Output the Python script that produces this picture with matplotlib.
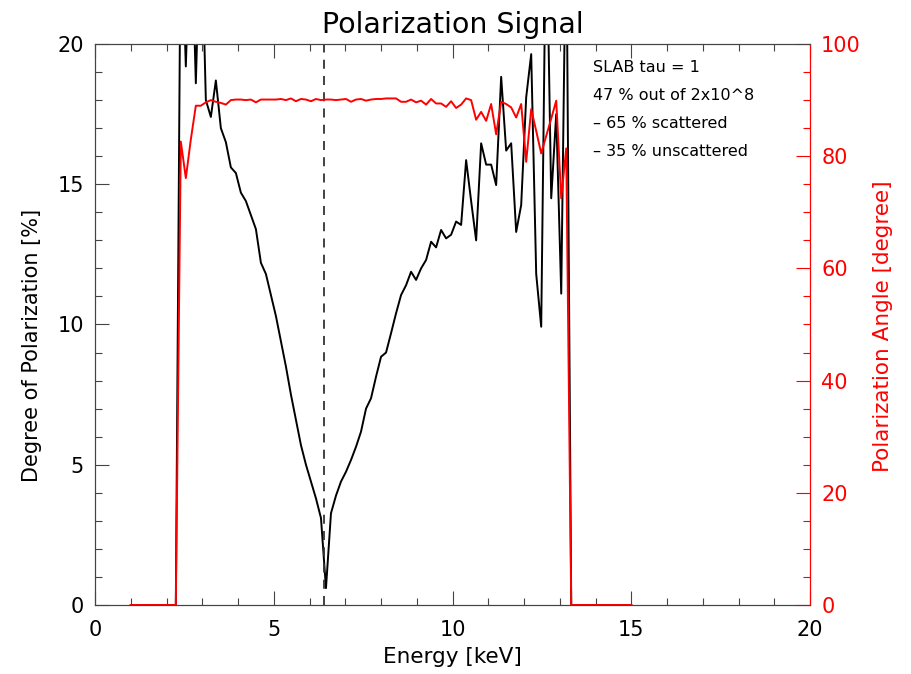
import numpy as np
import matplotlib
matplotlib.use("Agg")
import matplotlib.pyplot as plt
from matplotlib.ticker import MultipleLocator

# energy bins, 1-15 keV in 0.14 keV steps
energy = np.round(np.linspace(1.0, 15.0, 101), 2)

# signal is only non-zero between 2.40 and 13.18 keV (bins 10..87)
first_bin = 10

# degree of polarization [%] (values above 20 run off the top of the plot)
pol_degree = [
    25.0, 19.2, 25.0, 18.6, 25.0, 18.0, 17.4, 18.7, 17.0, 16.5,
    15.6, 15.4, 14.7, 14.4, 13.9, 13.4, 12.2, 11.8, 11.05, 10.3,
    9.4, 8.5, 7.5, 6.6, 5.7, 5.0, 4.4, 3.8, 3.1, 0.6,
    3.27, 3.9, 4.4, 4.75, 5.17, 5.64, 6.18, 7.0, 7.37, 8.14,
    8.85, 9.0, 9.69, 10.4, 11.05, 11.4, 11.88, 11.59, 12.0, 12.3,
    12.95, 12.75, 13.37, 13.07, 13.2, 13.67, 13.55, 15.86, 14.4, 13.0,
    16.46, 15.7, 15.7, 14.97, 18.83, 16.2, 16.46, 13.3, 14.26, 18.1,
    19.64, 11.8, 9.92, 25.0, 14.5, 17.5, 11.1, 25.0,
]

# polarization angle [degree]
pol_angle = [
    82.6, 76.1, 83.0, 89.0, 89.0, 89.6, 90.0, 89.7, 89.5, 89.2,
    90.0, 90.1, 90.1, 90.0, 90.1, 89.6, 90.1, 90.1, 90.1, 90.1,
    90.2, 90.0, 90.3, 89.8, 90.2, 90.1, 89.8, 90.2, 90.0, 90.1,
    90.1, 90.0, 90.1, 90.2, 89.7, 90.1, 90.2, 89.9, 90.1, 90.2,
    90.2, 90.3, 90.3, 90.3, 89.7, 89.7, 90.1, 89.6, 89.9, 89.2,
    90.2, 89.4, 89.4, 88.8, 89.8, 88.6, 89.2, 90.3, 90.0, 86.5,
    87.9, 86.3, 89.3, 83.9, 89.7, 89.3, 88.7, 86.9, 89.3, 79.0,
    88.4, 84.5, 80.5, 83.6, 86.7, 89.9, 72.5, 81.4,
]

fe_line = 6.4  # keV

notes = [
    "SLAB tau = 1",
    "47 % out of 2x10^8",
    "\u2013 65 % scattered",
    "\u2013 35 % unscattered",
]


def pad(values):
    out = np.zeros(len(energy))
    out[first_bin:first_bin + len(values)] = values
    return out


def main():
    degree = pad(pol_degree)
    angle = pad(pol_angle)

    plt.rcParams["font.family"] = "DejaVu Sans"
    fig = plt.figure(figsize=(9.11, 6.74), dpi=100)
    ax = fig.add_axes([0.1043, 0.1024, 0.7849, 0.8323])
    ax2 = ax.twinx()

    ax.plot(energy, degree, color="black", lw=1.4)
    ax.axvline(fe_line, color="#333333", lw=1.3, ls=(0, (5, 4)))
    ax2.plot(energy, angle, color="red", lw=1.4, clip_on=False)

    ax.set_xlim(0, 20)
    ax.set_ylim(0, 20)
    ax2.set_ylim(0, 100)

    ax.xaxis.set_major_locator(MultipleLocator(5))
    ax.xaxis.set_minor_locator(MultipleLocator(1))
    ax.yaxis.set_major_locator(MultipleLocator(5))
    ax.yaxis.set_minor_locator(MultipleLocator(1))
    ax2.yaxis.set_major_locator(MultipleLocator(20))
    ax2.yaxis.set_minor_locator(MultipleLocator(5))

    ax.tick_params(which="both", direction="in", top=True, right=False,
                   color="#444444", width=0.8)
    ax.tick_params(which="major", length=10, labelsize=15, pad=8)
    ax.tick_params(which="minor", length=5)
    ax.tick_params(axis="x", which="major", pad=11)
    ax2.tick_params(which="both", direction="in", color="red",
                    labelcolor="red", width=0.8)
    ax2.tick_params(which="major", length=10, labelsize=15, pad=8)
    ax2.tick_params(which="minor", length=5)

    for s in ax.spines.values():
        s.set_color("#444444")
        s.set_linewidth(0.8)
    for name, s in ax2.spines.items():
        s.set_linewidth(0.8)
        s.set_color("red" if name == "right" else "#444444")

    ax.set_xlabel("Energy [keV]", fontsize=15.5, labelpad=5)
    ax.set_ylabel("Degree of Polarization [%]", fontsize=15)
    ax.yaxis.set_label_coords(-0.074, 0.462)
    ax2.set_ylabel("Polarization Angle [degree]", fontsize=15.5, color="red")
    ax2.yaxis.set_label_coords(1.088, 0.497)
    ax.set_title("Polarization Signal", fontsize=20.5, pad=8)

    for k, txt in enumerate(notes):
        ax.text(13.93, 19.18 - k, txt, fontsize=11.5, va="center", ha="left")

    fig.savefig("out.png", dpi=100)


if __name__ == "__main__":
    main()
